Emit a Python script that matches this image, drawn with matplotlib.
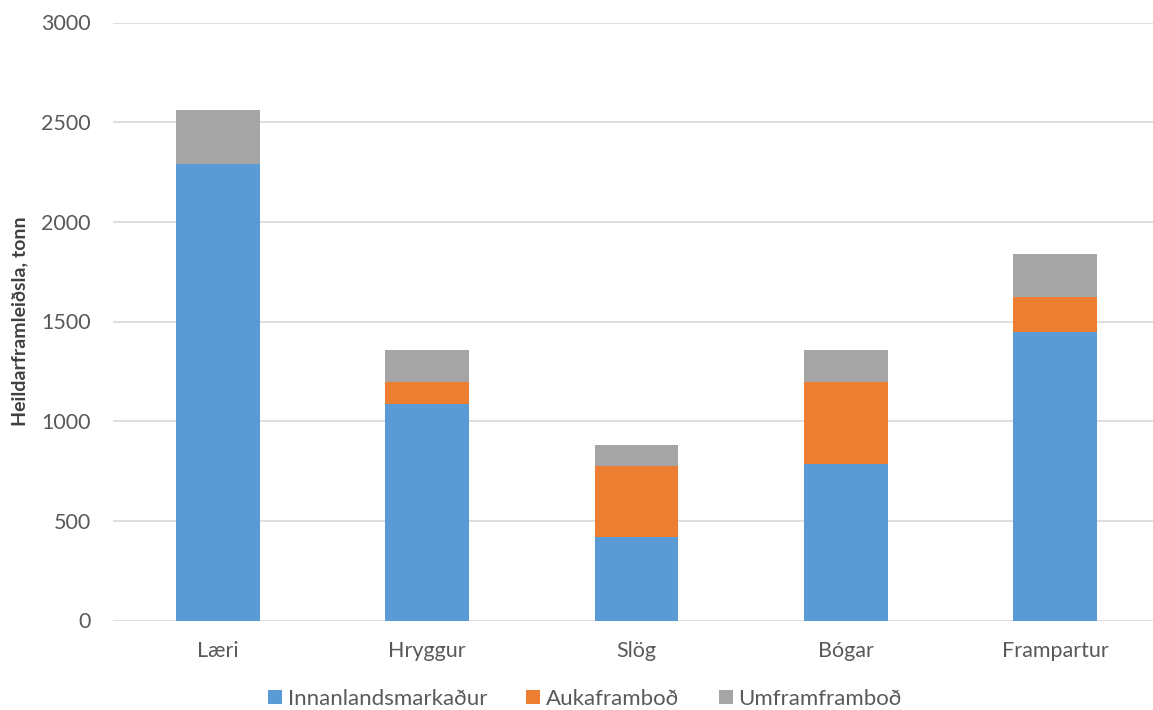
import matplotlib
matplotlib.use("Agg")
import matplotlib.pyplot as plt
import numpy as np

categories = ["Læri", "Hryggur", "Slög", "Bógar", "Frampartur"]
innanlands = [2292, 1085, 419, 784, 1446]
aukaframbod = [0, 113, 358, 414, 177]
umframframbod = [268, 161, 103, 161, 216]
series_names = ["Innanlandsmarkaður", "Aukaframboð", "Umframframboð"]
colors = ["#5B9BD5", "#ED7D31", "#A5A5A5"]
yticks = [0, 500, 1000, 1500, 2000, 2500, 3000]

plt.rcParams['font.family'] = ['Lato', 'DejaVu Sans']

fig = plt.figure(figsize=(11.53, 7.10), dpi=100)
ax = fig.add_axes([113/1153, 1 - 620.5/710, 1047/1153, (620.5-22.5)/710])

x = np.arange(len(categories))
w = 0.40
b1 = np.array(innanlands)
b2 = b1 + np.array(aukaframbod)
h1 = ax.bar(x, innanlands, w, color=colors[0], label=series_names[0], zorder=3)
h2 = ax.bar(x, aukaframbod, w, bottom=b1, color=colors[1], label=series_names[1], zorder=3)
h3 = ax.bar(x, umframframbod, w, bottom=b2, color=colors[2], label=series_names[2], zorder=3)

ax.set_xlim(-0.5, len(categories) - 0.5)
ax.set_ylim(0, 3000)
ax.set_yticks(yticks)
ax.set_yticklabels([str(t) for t in yticks])
ax.set_xticks(x)
ax.set_xticklabels(categories)
ax.grid(axis='y', color='#D9D9D9', linewidth=1.2, zorder=0)
for s in ax.spines.values():
    s.set_visible(False)
ax.tick_params(axis='both', length=0, labelsize=15.5, colors='#595959')
ax.tick_params(axis='y', pad=16)
ax.tick_params(axis='x', pad=15)

fig.text(20/1153, 1 - 321/710, "Heildarframleiðsla, tonn", rotation=90, ha='center', va='center',
         fontsize=14, fontweight='bold', color='#404040')

fig.legend(handles=[h1, h2, h3], labels=series_names, loc='center', bbox_to_anchor=(585/1153, 1 - 699/710),
           ncol=3, frameon=False, fontsize=16, handlelength=0.63, handleheight=0.63, handletextpad=0.27,
           columnspacing=1.75, labelcolor='#595959', borderpad=0)

fig.savefig("out.png", dpi=100)
